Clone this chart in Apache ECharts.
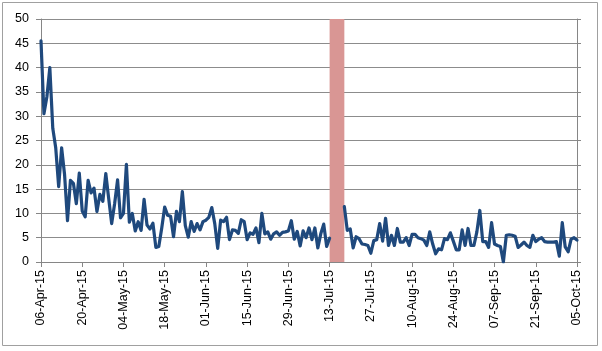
<!DOCTYPE html>
<html>
<head>
<meta charset="utf-8">
<script src="https://cdn.jsdelivr.net/npm/echarts@6/dist/echarts.min.js"></script>
<style>
  html, body { margin: 0; padding: 0; background: #ffffff; }
  #chart { width: 602px; height: 351px; }
</style>
</head>
<body>
<div id="chart"></div>
<script>
// daily values, 06-Apr-15 .. 05-Oct-15 (null = no data)
var startDate = [2015, 3, 6];
var dayCount = 183;
var monthNames = ['Jan', 'Feb', 'Mar', 'Apr', 'May', 'Jun', 'Jul', 'Aug', 'Sep', 'Oct', 'Nov', 'Dec'];

var values = [
	45.5, 30.5, 34, 40, 27.5, 23.5, 15.5, 23.5, 18, 8.5,
	16.8, 16.2, 12, 18.3, 10.5, 9.3, 16.8, 14.2, 15.2, 10.4,
	13.9, 12.5, 18.2, 13, 7.9, 12, 16.9, 9.1, 10, 20.1,
	8.2, 10, 6.4, 8.3, 6.5, 12.9, 7.6, 6.8, 8, 3,
	3.2, 7, 11.3, 9.6, 9.4, 5.2, 10.4, 8.3, 14.5, 7.5,
	5.1, 8.3, 6.3, 7.9, 6.6, 8.3, 8.6, 9.2, 11.2, 7.9,
	2.8, 8.6, 8.3, 9.2, 4.6, 6.6, 6.5, 5.9, 8.7, 8.3,
	4.6, 6, 5.7, 7, 4, 10, 5.8, 6.2, 4.7, 5.8,
	6.2, 5.5, 6.1, 6.2, 6.4, 8.5, 4.7, 6.3, 3.3, 6.4,
	5, 7, 4.6, 7, 2.9, 5.8, 7.8, 3.2, 4.9, null,
	null, null, null, 11.4, 6.5, 6.8, 2.9, 5.2, 4.8, 3.7,
	3.6, 3.4, 1.8, 4.4, 4.6, 7.9, 4.3, 9, 3.4, 5.5,
	3.4, 6.9, 4.1, 4.1, 5, 3.4, 5.7, 5.7, 5, 4.8,
	4.5, 3.4, 6.2, 3.7, 1.7, 2.7, 2.5, 4.8, 4.6, 6,
	4.3, 2.5, 2.5, 6.6, 3.4, 6.9, 3.4, 3.4, 6.2, 10.6,
	4.2, 4.2, 3, 8.1, 3.7, 3.4, 3.2, 0, 5.5, 5.6,
	5.5, 5.3, 3, 3.5, 4.1, 3.4, 3, 5.5, 4.2, 4.7,
	5, 4.2, 4.1, 4.1, 4.1, 4.2, 1.2, 8.1, 3.1, 2.1,
	4.7, 5, 4.5
];

// shaded period (no data)
var bandStart = '13-Jul-15';
var bandEnd = '18-Jul-15';

var yTicks = [0, 5, 10, 15, 20, 25, 30, 35, 40, 45, 50];

function pad(n) {
	return n < 10 ? '0' + n : '' + n;
}

var dates = [];
for (var i = 0; i < dayCount; i++) {
	var d = new Date(startDate[0], startDate[1], startDate[2] + i);
	dates.push(pad(d.getDate()) + '-' + monthNames[d.getMonth()] + '-' + String(d.getFullYear()).slice(2));
}

var myChart = echarts.init(document.getElementById('chart'));
var option = {
	animation : false,
	backgroundColor : '#ffffff',
	graphic : [ {
		type : 'rect',
		shape : { x : 2.5, y : 2.5, width : 595, height : 343 },
		style : { fill : 'none', stroke : '#a0a0a0', lineWidth : 1 }
	} ],
	grid : {
		left : 41,
		right : 25,
		top : 19,
		bottom : 89
	},
	xAxis : {
		type : 'category',
		data : dates,
		boundaryGap : false,
		axisLine : { lineStyle : { color : '#868686' } },
		axisTick : {
			interval : 13,
			length : 5,
			lineStyle : { color : '#868686' }
		},
		axisLabel : {
			interval : 13,
			rotate : 90,
			margin : 8,
			color : '#000000',
			fontFamily : 'Liberation Sans',
			fontSize : 12.5
		},
		splitLine : { show : false }
	},
	yAxis : [ {
		type : 'value',
		min : yTicks[0],
		max : yTicks[yTicks.length - 1],
		interval : 5,
		axisLine : { show : true, lineStyle : { color : '#868686' } },
		axisTick : { show : true, length : 5, lineStyle : { color : '#868686' } },
		axisLabel : {
			margin : 12,
			color : '#000000',
			fontFamily : 'Liberation Sans',
			fontSize : 12.5
		},
		splitLine : { lineStyle : { color : '#8c8c8c', width : 1 } }
	}, {
		type : 'value',
		min : yTicks[0],
		max : yTicks[yTicks.length - 1],
		interval : 5,
		position : 'right',
		axisLine : { show : true, lineStyle : { color : '#868686' } },
		axisTick : { show : true, length : 4, lineStyle : { color : '#868686' } },
		axisLabel : { show : false },
		splitLine : { show : false }
	} ],
	series : [ {
		type : 'line',
		data : values,
		symbol : 'none',
		connectNulls : false,
		lineStyle : { color : '#1f497d', width : 3.2, join : 'round', cap : 'round' },
		markArea : {
			silent : true,
			itemStyle : { color : '#d99694', opacity : 1 },
			data : [ [ { xAxis : bandStart }, { xAxis : bandEnd } ] ]
		}
	} ]
};
myChart.setOption(option);
</script>
</body>
</html>
